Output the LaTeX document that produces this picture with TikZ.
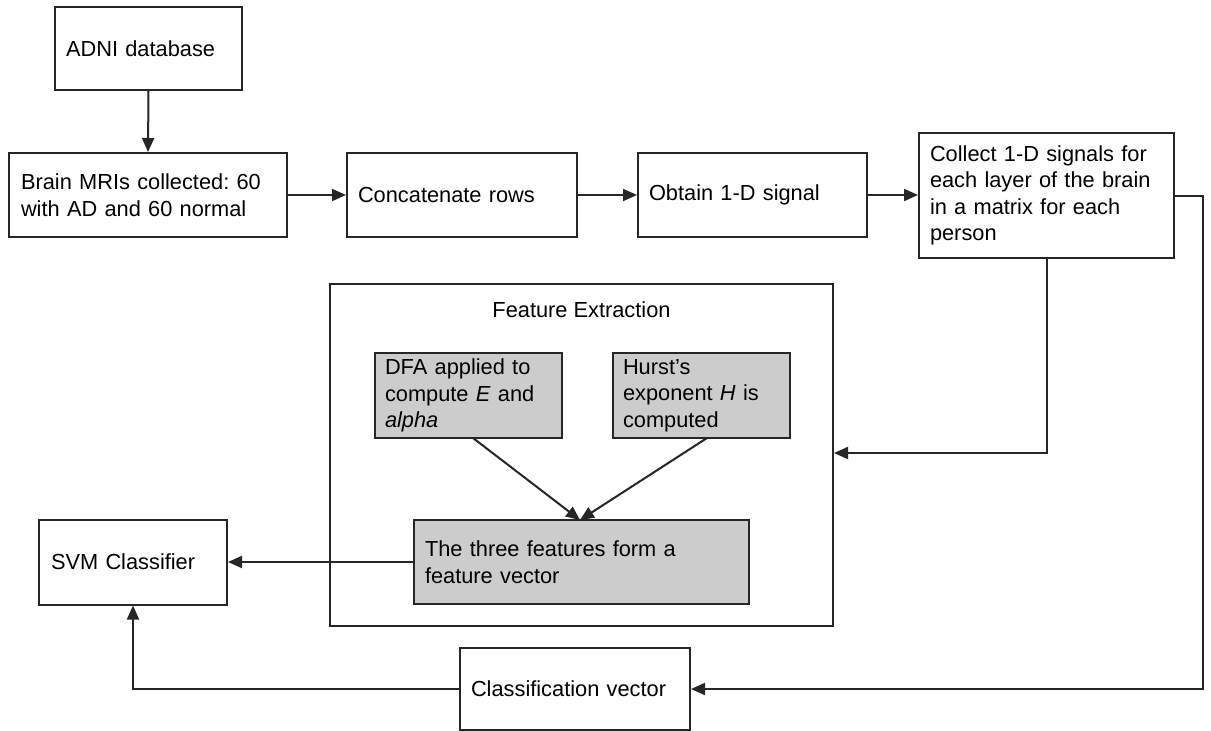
\documentclass[tikz,border=0pt]{standalone}
\usepackage{fontspec}
\setmainfont{Liberation Sans}
\usetikzlibrary{arrows.meta}
\frenchspacing
\begin{document}
\begin{tikzpicture}[x=1pt,y=-1pt,
  line width=2pt,
  every node/.style={font=\fontsize{21.8}{26.5}\selectfont},
  box/.style={draw=black!85, rectangle, inner sep=0pt, align=left, line width=2pt},
  graybox/.style={box, fill=black!20},
  arr/.style={draw=black!85, -{Triangle[length=14pt,width=12pt]}},
  ln/.style={draw=black!85}]
\useasboundingbox (0,0) rectangle (1211,731);
% boxes
\node[box, minimum width=187pt, minimum height=83pt, text width=165pt] (adni) at (148.5,48.5) {ADNI database};
\node[box, minimum width=278pt, minimum height=84pt, text width=254pt] (brain) at (148,195) {Brain MRIs collected: 60\\with AD and 60 normal};
\node[box, minimum width=230pt, minimum height=84pt, text width=208pt] (concat) at (462,195) {Concatenate rows};
\node[box, minimum width=229pt, minimum height=84pt, text width=207pt] (obtain) at (752.5,195) {Obtain 1-D signal};
\node[box, minimum width=255pt, minimum height=125pt, text width=233pt] (collect) at (1046.5,195.5) {Collect 1-D signals for\\each layer of the brain\\in a matrix for each\\person};
\node[box, minimum width=503pt, minimum height=342pt] (feat) at (581.5,455) {};
\node (feattitle) at (581.5,310) {Feature Extraction};
\node[graybox, minimum width=187pt, minimum height=85pt, text width=167pt] (dfa) at (468.5,395.5) {DFA applied to\\compute \textit{E} and\\\textit{alpha}};
\node[graybox, minimum width=177pt, minimum height=85pt, text width=157pt] (hurst) at (701.5,395.5) {Hurst’s\\exponent \textit{H} is\\computed};
\node[graybox, minimum width=335pt, minimum height=84pt, text width=313pt] (three) at (581.5,562) {The three features form a\\feature vector};
\node[box, minimum width=188pt, minimum height=85pt, text width=164pt] (svm) at (133,562) {SVM Classifier};
\node[box, minimum width=230pt, minimum height=82pt, text width=208pt] (class) at (575,689) {Classification vector};
% connectors
\draw[arr] (adni.south) -- (brain.north);
\draw[arr] (brain.east) -- (concat.west);
\draw[arr] (concat.east) -- (obtain.west);
\draw[arr] (obtain.east) -- (obtain.east -| collect.west);
\draw[arr] (collect.south) |- (feat.east |- 0,453);
\coordinate (rturn) at (1203,196);
\draw[arr] (rturn -| collect.east) -- (rturn) |- (class.east);
\draw[arr] (class.west) -| (svm.south);
\draw[arr] (three.west) -- (svm.east);
\coordinate (meet) at (580,520);
\draw[arr] (473,438) -- (meet);
\draw[arr] (707,438) -- (meet);
\end{tikzpicture}
\end{document}
